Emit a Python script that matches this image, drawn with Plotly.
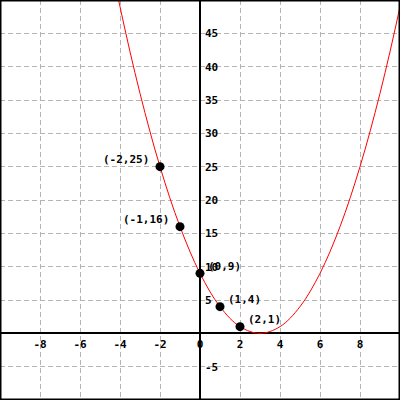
import plotly.graph_objects as go

# curve samples (integer x)
curve_x = [-5, -4, -3, -2, -1, 0, 1, 2, 3, 4, 5, 6, 7, 8, 9, 10, 11]
curve_y = [64, 49, 36, 25, 16, 9, 4, 1, 0, 1, 4, 9, 16, 25, 36, 49, 64]

# labelled points
pt_x = [-2, -1, 0, 1, 2]
pt_y = [25, 16, 9, 4, 1]

x_ticks = [-8, -6, -4, -2, 0, 2, 4, 6, 8]
y_ticks = [-5, 5, 10, 15, 20, 25, 30, 35, 40, 45]

FONT = dict(family="DejaVu Sans Mono", size=11, color="black", weight="bold")

fig = go.Figure()
fig.add_trace(go.Scatter(x=curve_x, y=curve_y, mode="lines",
                         line=dict(color="red", width=1, shape="spline", smoothing=1.0),
                         hoverinfo="skip"))
fig.add_trace(go.Scatter(x=pt_x, y=pt_y, mode="markers",
                         marker=dict(color="black", size=9),
                         hoverinfo="skip"))

for x, y in zip(pt_x, pt_y):
    if x < 0:
        fig.add_annotation(x=x, y=y, text=f"({x},{y})", showarrow=False,
                           xanchor="right", yanchor="middle", xshift=-9, yshift=7, font=FONT)
    else:
        fig.add_annotation(x=x, y=y, text=f"({x},{y})", showarrow=False,
                           xanchor="left", yanchor="middle", xshift=6, yshift=7, font=FONT)

grid = dict(showgrid=True, gridcolor="#b4b4b4", gridwidth=1, griddash="5px,3px",
            zeroline=True, zerolinecolor="black", zerolinewidth=1.5,
            showline=False, ticks="", tickfont=FONT, fixedrange=True, automargin=False)

fig.update_layout(
    width=400, height=400,
    margin=dict(l=0, r=0, t=0, b=0, pad=0),
    paper_bgcolor="white", plot_bgcolor="white",
    showlegend=False, hovermode=False,
    xaxis=dict(range=[-10, 10], tickvals=x_ticks, ticktext=[str(v) for v in x_ticks],
               anchor="free", position=1/6, ticklabelstandoff=3, **grid),
    yaxis=dict(range=[-10, 50], tickvals=y_ticks, ticktext=[str(v) for v in y_ticks],
               anchor="free", position=0.5, side="right", ticklabelstandoff=4, **grid),
    shapes=[dict(type="rect", xref="paper", yref="paper", x0=0, x1=1, y0=0, y1=1,
                 line=dict(color="black", width=3))],
)

fig.write_html("out.html", config={"displayModeBar": False},
               post_script="document.body.style.margin='0px';")
